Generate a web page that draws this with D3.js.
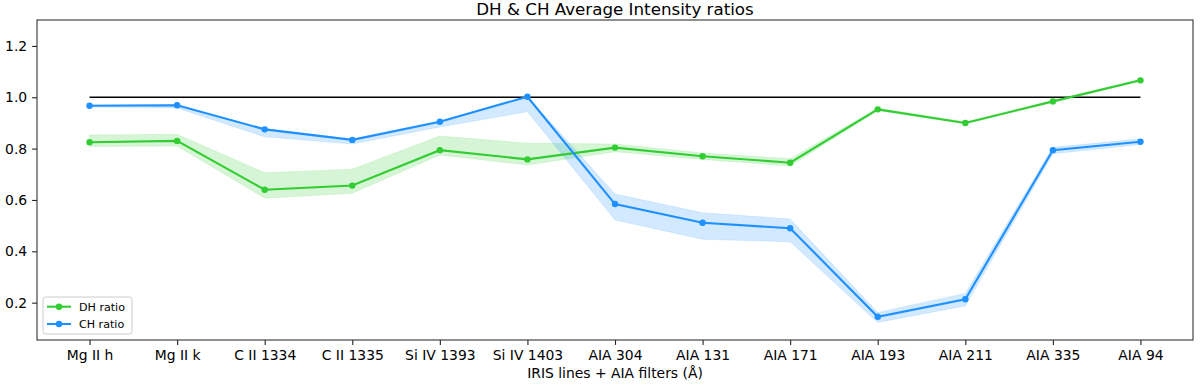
<!DOCTYPE html>
<html>
<head>
<meta charset="utf-8">
<script src="https://cdn.jsdelivr.net/npm/d3@7"></script>
<style>
  html, body { margin: 0; padding: 0; background: #fff; }
  svg { display: block; font-family: 'DejaVu Sans', sans-serif; }
</style>
</head>
<body>
<div id="chart"></div>
<script>
  var categories = ['Mg II h', 'Mg II k', 'C II 1334', 'C II 1335', 'Si IV 1393', 'Si IV 1403',
    'AIA 304', 'AIA 131', 'AIA 171', 'AIA 193', 'AIA 211', 'AIA 335', 'AIA 94'];

  var dhRatio = [0.825, 0.830, 0.640, 0.656, 0.794, 0.758, 0.804, 0.770, 0.745, 0.953, 0.900, 0.984, 1.066];
  var dhLow   = [0.808, 0.810, 0.607, 0.626, 0.775, 0.736, 0.788, 0.758, 0.732, 0.948, 0.896, 0.980, 1.062];
  var dhHigh  = [0.853, 0.856, 0.706, 0.720, 0.849, 0.821, 0.818, 0.783, 0.761, 0.958, 0.904, 0.988, 1.070];

  var chRatio = [0.967, 0.969, 0.875, 0.834, 0.905, 1.002, 0.584, 0.511, 0.490, 0.145, 0.213, 0.794, 0.827];
  var chLow   = [0.962, 0.958, 0.846, 0.818, 0.884, 0.944, 0.522, 0.447, 0.437, 0.123, 0.187, 0.780, 0.816];
  var chHigh  = [0.970, 0.972, 0.878, 0.837, 0.908, 1.003, 0.623, 0.550, 0.526, 0.162, 0.236, 0.805, 0.838];

  var yTicks = [0.2, 0.4, 0.6, 0.8, 1.0, 1.2];
  var refLevel = 1.0;

  var width = 1200, height = 386;
  var margin = { top: 20, right: 7, bottom: 46, left: 37 };

  var svg = d3.select('#chart')
    .append('svg')
    .attr('width', width)
    .attr('height', height);

  var x = d3.scaleLinear()
    .domain([-0.6, categories.length - 1 + 0.6])
    .range([margin.left, width - margin.right]);

  var y = d3.scaleLinear()
    .domain([0.0545, 1.301])
    .range([height - margin.bottom, margin.top]);

  var series = [
    { name: 'DH ratio', color: '#32cd32', mid: dhRatio, lo: dhLow, hi: dhHigh },
    { name: 'CH ratio', color: '#1e90ff', mid: chRatio, lo: chLow, hi: chHigh }
  ];

  var plot = svg.append('g');

  // shaded bands
  series.forEach(function(s) {
    var area = d3.area()
      .x(function(d, i) { return x(i); })
      .y0(function(d, i) { return y(s.lo[i]); })
      .y1(function(d, i) { return y(s.hi[i]); });
    plot.append('path')
      .datum(categories)
      .attr('d', area)
      .attr('fill', s.color)
      .attr('fill-opacity', 0.2)
      .attr('stroke', s.color)
      .attr('stroke-opacity', 0.12)
      .attr('stroke-width', 1);
  });

  // reference line at 1.0
  plot.append('line')
    .attr('x1', x(0))
    .attr('x2', x(categories.length - 1))
    .attr('y1', y(refLevel))
    .attr('y2', y(refLevel))
    .attr('stroke', '#000')
    .attr('stroke-width', 1.5);

  // lines + markers
  series.forEach(function(s) {
    var line = d3.line()
      .x(function(d, i) { return x(i); })
      .y(function(d) { return y(d); });
    plot.append('path')
      .datum(s.mid)
      .attr('d', line)
      .attr('fill', 'none')
      .attr('stroke', s.color)
      .attr('stroke-width', 2.1);
    plot.selectAll(null)
      .data(s.mid)
      .enter()
      .append('circle')
      .attr('cx', function(d, i) { return x(i); })
      .attr('cy', function(d) { return y(d); })
      .attr('r', 3.2)
      .attr('fill', s.color);
  });

  // axes
  var xAxis = d3.axisBottom(x)
    .tickValues(d3.range(categories.length))
    .tickFormat(function(i) { return categories[i]; })
    .tickSize(4.9)
    .tickPadding(5.2);

  var yAxis = d3.axisLeft(y)
    .tickValues(yTicks)
    .tickFormat(d3.format('.1f'))
    .tickSize(4.9)
    .tickPadding(4.9);

  var gx = svg.append('g')
    .attr('transform', 'translate(0,' + (height - margin.bottom) + ')')
    .call(xAxis);
  var gy = svg.append('g')
    .attr('transform', 'translate(' + margin.left + ',0)')
    .call(yAxis);

  [gx, gy].forEach(function(g) {
    g.select('.domain').remove();
    g.selectAll('.tick line').attr('stroke', '#222').attr('stroke-width', 1.1);
    g.selectAll('.tick text')
      .attr('fill', '#000')
      .style('font-size', '13.9px')
      .style('font-family', "'DejaVu Sans', sans-serif");
  });

  // frame
  svg.append('rect')
    .attr('x', margin.left)
    .attr('y', margin.top)
    .attr('width', width - margin.left - margin.right)
    .attr('height', height - margin.top - margin.bottom)
    .attr('fill', 'none')
    .attr('stroke', '#333')
    .attr('stroke-width', 1.1);

  // title
  svg.append('text')
    .attr('x', (margin.left + width - margin.right) / 2)
    .attr('y', 15)
    .attr('text-anchor', 'middle')
    .style('font-size', '16.7px')
    .text('DH & CH Average Intensity ratios');

  // x label
  svg.append('text')
    .attr('x', (margin.left + width - margin.right) / 2)
    .attr('y', 378)
    .attr('text-anchor', 'middle')
    .style('font-size', '13.9px')
    .text('IRIS lines + AIA filters (Å)');

  // legend
  var legend = svg.append('g').attr('transform', 'translate(43,297)');
  legend.append('rect')
    .attr('width', 89)
    .attr('height', 37)
    .attr('rx', 2.5)
    .attr('fill', '#fff')
    .attr('fill-opacity', 0.8)
    .attr('stroke', '#ccc')
    .attr('stroke-width', 1);

  series.forEach(function(s, i) {
    var row = legend.append('g').attr('transform', 'translate(0,' + (9.7 + i * 17.3) + ')');
    row.append('line')
      .attr('x1', 4).attr('x2', 28)
      .attr('stroke', s.color)
      .attr('stroke-width', 2.1);
    row.append('circle')
      .attr('cx', 16).attr('r', 3.2)
      .attr('fill', s.color);
    row.append('text')
      .attr('x', 36)
      .attr('y', 4)
      .style('font-size', '11.1px')
      .text(s.name);
  });
</script>
</body>
</html>
